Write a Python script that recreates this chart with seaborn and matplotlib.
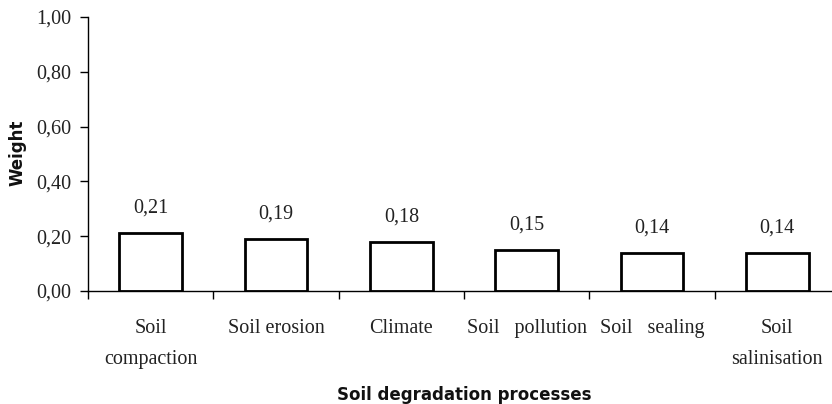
"""Soil degradation processes - weights (bar chart, Excel-like style)."""
import matplotlib; matplotlib.use("Agg")
import numpy as np
import pandas as pd
import matplotlib.pyplot as plt
import seaborn as sns
from matplotlib.font_manager import FontProperties
from matplotlib.ticker import FuncFormatter, FixedLocator

processes = ["Soil compaction", "Soil erosion", "Climate", "Soil pollution",
             "Soil sealing", "Soil salinisation"]
tick_labels = ["Soil\ncompaction", "Soil erosion", "Climate", "Soil   pollution",
               "Soil   sealing", "Soil\nsalinisation"]
weights = [0.21, 0.19, 0.18, 0.15, 0.14, 0.14]

sns.set_theme(style="ticks")
plt.rcParams["font.family"] = ["Liberation Serif", "DejaVu Serif"]

df = pd.DataFrame({"process": processes, "weight": weights})

W, H = 832, 404
fig = plt.figure(figsize=(W / 100, H / 100), dpi=100)
ax = fig.add_axes([88 / W, (H - 291) / H, (840 - 88) / W, (291 - 17) / H])

sns.barplot(data=df, x="process", y="weight", color="white", edgecolor="black",
            linewidth=2.0, width=0.5, saturation=1, ax=ax)

ax.set_xlim(-0.5, 5.5)
ax.set_ylim(0, 1.0)
ax.set_yticks(np.arange(0, 1.01, 0.2))
ax.yaxis.set_major_formatter(FuncFormatter(lambda v, p: f"{v:.2f}".replace(".", ",")))
ax.tick_params(axis="y", length=6, width=1, color="black", pad=6,
               labelsize=14.5, labelcolor="#222222")

ax.set_xticks(range(len(tick_labels)))
ax.set_xticklabels(tick_labels, fontsize=14.5, color="#222222", linespacing=1.9)
ax.tick_params(axis="x", which="major", length=0, pad=20)
ax.xaxis.set_minor_locator(FixedLocator(np.arange(-0.5, 6.0, 1.0)))
ax.tick_params(axis="x", which="minor", length=6, width=1, color="black")

for i, v in enumerate(weights):
    ax.annotate(f"{v:.2f}".replace(".", ","), (i, v), xytext=(0, 18),
                textcoords="offset points", ha="center", va="center",
                fontsize=14.5, color="#222222")

for s in ["top", "right"]:
    ax.spines[s].set_visible(False)
for s in ["left", "bottom"]:
    ax.spines[s].set_color("black")
    ax.spines[s].set_linewidth(1)

lab_font = FontProperties(family="DejaVu Sans", weight="bold", stretch="normal", size=12)
ax.set_xlabel("Soil degradation processes", fontproperties=lab_font, color="#111111")
ax.set_ylabel("Weight", fontproperties=lab_font, color="#111111")
ax.xaxis.set_label_coords((464 - 88) / (840 - 88), -(386 - 291) / (291 - 17))
ax.yaxis.set_label_coords(-(88 - 27) / (840 - 88), (291 - 153) / (291 - 17))

fig.savefig("out.png", dpi=100, facecolor="white")
